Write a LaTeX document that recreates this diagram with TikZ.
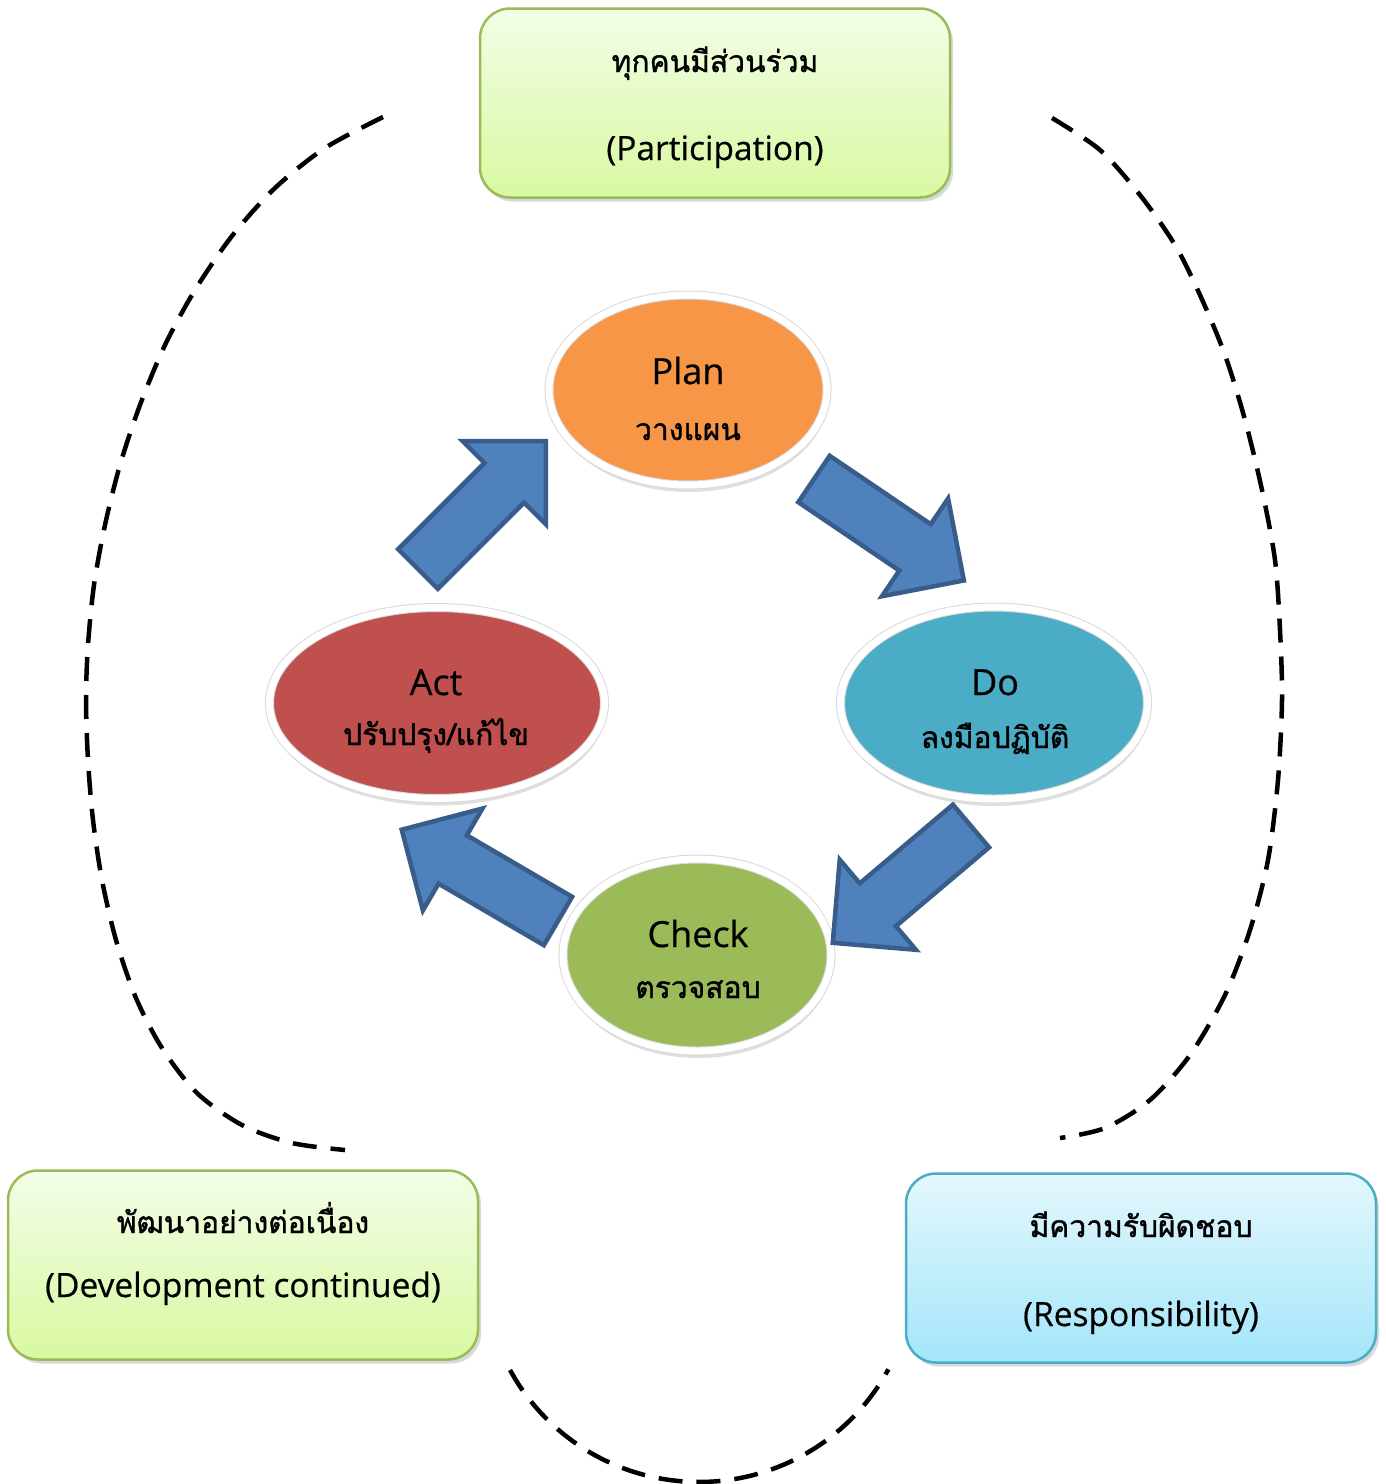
\documentclass[tikz,border=0pt]{standalone}
\usepackage{fontspec}
\setmainfont[FakeBold=0.5]{Open Sans}
\newfontfamily\thaifont[Script=Thai,FakeBold=1.2]{Loma}
\usetikzlibrary{shapes.geometric,shadows}

\definecolor{planorange}{HTML}{F79646}
\definecolor{actred}{HTML}{C0504D}
\definecolor{doblue}{HTML}{4BACC6}
\definecolor{checkgreen}{HTML}{9BBB59}
\definecolor{arrowblue}{HTML}{4F81BD}
\definecolor{arrowedge}{HTML}{385D8A}
\definecolor{greenedge}{HTML}{9BBB59}
\definecolor{greentop}{HTML}{F3FDE8}
\definecolor{greenbottom}{HTML}{D8F9A0}
\definecolor{blueedge}{HTML}{4BACC6}
\definecolor{bluetop}{HTML}{E4F7FD}
\definecolor{bluebottom}{HTML}{A3E6FA}

\begin{document}
\begin{tikzpicture}[x=1pt,y=-1pt,
	stage/.style={ellipse,draw=black!15,line width=1pt,double=white,double distance=7pt,inner sep=0pt,drop shadow={opacity=0.25,shadow xshift=1pt,shadow yshift=-7pt}},
	infobox/.style={rectangle,rounded corners=30pt,line width=2.5pt,minimum width=470pt,minimum height=189pt,drop shadow={opacity=0.3,shadow xshift=3pt,shadow yshift=-4pt}},
	greenbox/.style={infobox,draw=greenedge,top color=greentop,bottom color=greenbottom},
	bluebox/.style={infobox,draw=blueedge,top color=bluetop,bottom color=bluebottom},
	latin/.style={anchor=base,inner sep=0pt,font=\fontsize{36}{42}\selectfont},
	boxlatin/.style={anchor=base,inner sep=0pt,font=\fontsize{33.5}{40}\selectfont},
	thai/.style={anchor=base,inner sep=0pt,font=\thaifont\fontsize{30}{36}\selectfont},
	cyclepath/.style={dash pattern=on 24pt off 14pt,line width=4.5pt},
	blockarrow/.pic={\draw[fill=arrowblue,draw=arrowedge,line width=4.5pt,line join=miter] (0,-28) -- (122,-28) -- (122,-59) -- (181,0) -- (122,59) -- (122,28) -- (0,28) -- cycle;}]
	\useasboundingbox (0,0) rectangle (1386,1484);

	\draw[cyclepath] plot[smooth] coordinates {(383,117) (325,148) (275,188) (232,236) (195,290) (165,345) (140,405) (120,465) (105,525) (94,585) (88,645) (86,700) (88,760) (93,820) (102,880) (116,940) (136,998) (162,1048) (197,1093) (242,1125) (292,1143) (345,1150)};
	\draw[cyclepath] plot[smooth] coordinates {(1052,118) (1100,150) (1140,195) (1175,245) (1200,295) (1225,355) (1245,420) (1262,490) (1275,560) (1280,630) (1282,700) (1278,780) (1268,860) (1250,930) (1225,995) (1190,1055) (1150,1100) (1105,1128) (1060,1138)};
	\draw[cyclepath] plot[domain=151.3:28.5,samples=40,smooth] ({699+215.5*cos(\x)},{1266.5+215.5*sin(\x)});

	\node[greenbox] (part) at (715,103) {};
	\node[greenbox] (devel) at (243,1265) {};
	\node[bluebox] (resp) at (1141,1268) {};
	\node[thai] (partth) at (715,72) {ทุกคนมีส่วนร่วม};
	\node[boxlatin] (parten) at (715,160) {(Participation)};
	\node[thai] (develth) at (243,1233) {พัฒนาอย่างต่อเนื่อง};
	\node[boxlatin] (develen) at (243,1297) {(Development continued)};
	\node[thai] (respth) at (1141,1237) {มีความรับผิดชอบ};
	\node[boxlatin] (respen) at (1141,1326) {(Responsibility)};

	\node[stage,fill=planorange,minimum width=278pt,minimum height=190pt] (plan) at (688,390) {};
	\node[stage,fill=actred,minimum width=335pt,minimum height=191pt] (act) at (437,703) {};
	\node[stage,fill=doblue,minimum width=307pt,minimum height=192pt] (do) at (994,703) {};
	\node[stage,fill=checkgreen,minimum width=268pt,minimum height=192pt] (check) at (697,955) {};
	\node[latin] (planen) at (688,384) {Plan};
	\node[thai] (planth) at (688,440) {วางแผน};
	\node[latin] (acten) at (436,695) {Act};
	\node[thai] (actth) at (436,745) {ปรับปรุง/แก้ไข};
	\node[latin] (doen) at (995,695) {Do};
	\node[thai] (doth) at (995,748) {ลงมือปฏิบัติ};
	\node[latin] (checken) at (698,947) {Check};
	\node[thai] (checkth) at (698,998) {ตรวจสอบ};

	\pic[rotate=45] at (418,569) {blockarrow};
	\pic[rotate=-34.1] at (814,479) {blockarrow};
	\pic[rotate=-139.8] at (971,826) {blockarrow};
	\pic[rotate=149.7] at (558,921) {blockarrow};
\end{tikzpicture}
\end{document}
